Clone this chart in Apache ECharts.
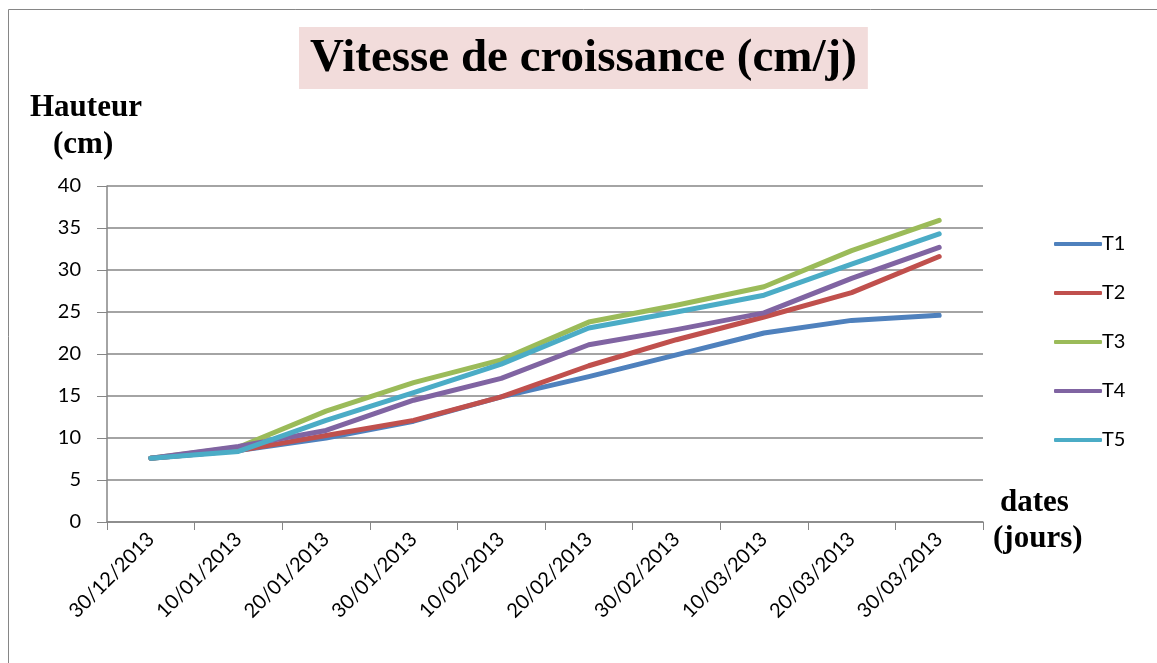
<!DOCTYPE html>
<html><head><meta charset="utf-8">
<script src="https://cdn.jsdelivr.net/npm/echarts@6/dist/echarts.min.js"></script>
<style>html,body{margin:0;padding:0;background:#fff}#c{width:1157px;height:663px}</style>
</head><body><div id="c"></div>
<script>
const categories = ['30/12/2013','10/01/2013','20/01/2013','30/01/2013','10/02/2013','20/02/2013','30/02/2013','10/03/2013','20/03/2013','30/03/2013'];
const T1 = [7.6, 8.5, 10.0, 12.0, 14.9, 17.3, 19.9, 22.5, 24.0, 24.6];
const T2 = [7.6, 8.5, 10.3, 12.1, 14.9, 18.6, 21.7, 24.4, 27.3, 31.6];
const T3 = [7.6, 8.9, 13.2, 16.6, 19.3, 23.8, 25.8, 28.0, 32.3, 35.9];
const T4 = [7.6, 9.0, 10.9, 14.5, 17.1, 21.1, 22.9, 24.9, 29.0, 32.7];
const T5 = [7.6, 8.4, 12.1, 15.4, 18.8, 23.1, 25.0, 27.0, 30.7, 34.3];
const yTicks = [0, 5, 10, 15, 20, 25, 30, 35, 40];

const names = ['T1','T2','T3','T4','T5'];
const colors = ['#4F81BD','#C0504D','#9BBB59','#8064A2','#4BACC6'];
const data = [T1,T2,T3,T4,T5];
const serif = '"Liberation Serif","Times New Roman",serif';
const sans = 'Lato, "Open Sans", sans-serif';
const chart = echarts.init(document.getElementById('c'));
chart.setOption({
  animation: false,
  title: {
    text: 'Vitesse de croissance (cm/j)',
    left: 299, top: 27,
    padding: [7, 11, 5, 11],
    backgroundColor: '#F2DCDB',
    textStyle: { fontFamily: serif, fontWeight: 'bold', fontSize: 47, color: '#000', lineHeight: 50 }
  },
  graphic: [
    { type: 'rect', shape: { x: 8.5, y: 9.5, width: 1160, height: 660 }, style: { fill: 'none', stroke: '#868686', lineWidth: 1 } },
    { type: 'text', left: 30, top: 92, style: { text: 'Hauteur', font: 'bold 31px ' + serif, fill: '#000' } },
    { type: 'text', left: 53, top: 129, style: { text: '(cm)', font: 'bold 31px ' + serif, fill: '#000' } },
    { type: 'text', left: 1000, top: 487, style: { text: 'dates', font: 'bold 31px ' + serif, fill: '#000' } },
    { type: 'text', left: 993, top: 523, style: { text: '(jours)', font: 'bold 31px ' + serif, fill: '#000' } }
  ],
  legend: {
    orient: 'vertical', left: 1049, top: 229,
    itemWidth: 48, itemHeight: 4, itemGap: 29,
    icon: 'roundRect',
    data: names,
    textStyle: { fontFamily: sans, fontSize: 20, color: '#000', padding: [0,0,0,-5] }
  },
  grid: { left: 107, right: 174, top: 186, bottom: 141 },
  xAxis: {
    type: 'category', data: categories, boundaryGap: true,
    axisLine: { lineStyle: { color: '#868686', width: 1.5 } },
    axisTick: { show: true, length: 8, lineStyle: { color: '#868686' } },
    axisLabel: { rotate: 45, fontFamily: sans, fontSize: 20, color: '#000', margin: 14, interval: 0 }
  },
  yAxis: {
    type: 'value', min: yTicks[0], max: yTicks[yTicks.length-1], interval: 5,
    axisLine: { show: true, lineStyle: { color: '#868686', width: 1.5 } },
    axisTick: { show: true, length: 10, lineStyle: { color: '#868686' } },
    splitLine: { lineStyle: { color: '#868686', width: 1.5 } },
    axisLabel: { fontFamily: sans, fontSize: 20, color: '#000', margin: 26 }
  },
  series: names.map((n, i) => ({
    name: n, type: 'line', data: data[i], symbol: 'none',
    lineStyle: { width: 5, color: colors[i], cap: 'round', join: 'round' },
    itemStyle: { color: colors[i] }
  }))
});
</script></body></html>
